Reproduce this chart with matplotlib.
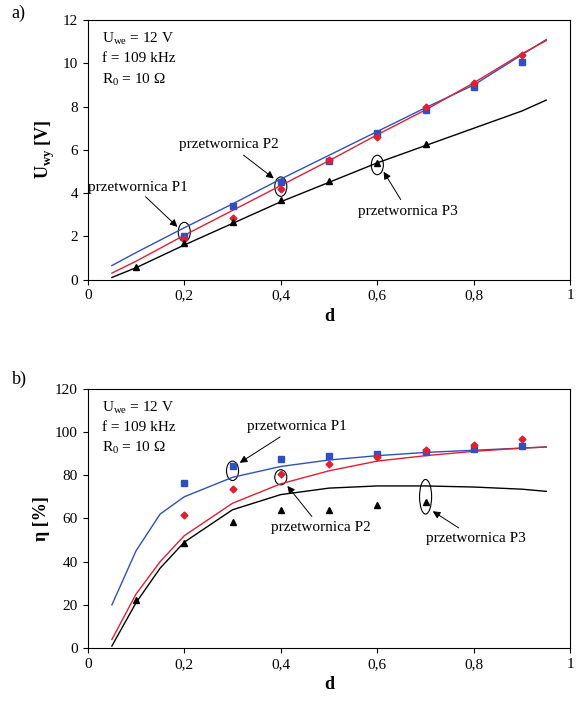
import numpy as np
import matplotlib
matplotlib.use("Agg")
import matplotlib.pyplot as plt
from matplotlib.patches import Ellipse

plt.rcParams['font.family'] = ['Liberation Serif', 'DejaVu Serif']
plt.rcParams['mathtext.fontset'] = 'custom'
plt.rcParams['mathtext.rm'] = 'Liberation Serif'
plt.rcParams['mathtext.bf'] = 'Liberation Serif:bold'

# --- top panel data (U_wy [V]) ---
d_p1 = [0.2, 0.3, 0.4, 0.5, 0.6, 0.7, 0.8, 0.9]
u_p1 = [2.0, 3.4, 4.5, 5.5, 6.8, 7.85, 8.9, 10.05]
d_p2 = [0.2, 0.3, 0.4, 0.5, 0.6, 0.7, 0.8, 0.9]
u_p2 = [1.9, 2.85, 4.2, 5.55, 6.6, 8.0, 9.1, 10.4]
d_p3 = [0.1, 0.2, 0.3, 0.4, 0.5, 0.6, 0.7]
u_p3 = [0.6, 1.7, 2.65, 3.7, 4.55, 5.4, 6.25]
d_fit = [0.05, 0.1, 0.2, 0.3, 0.4, 0.5, 0.6, 0.7, 0.8, 0.9, 0.95]
u_fit1 = [0.65, 1.25, 2.4, 3.5, 4.65, 5.75, 6.85, 7.95, 9.0, 10.4, 11.1]
u_fit2 = [0.3, 0.85, 2.05, 3.2, 4.35, 5.5, 6.7, 7.85, 9.1, 10.45, 11.05]
u_fit3 = [0.1, 0.55, 1.6, 2.6, 3.6, 4.5, 5.4, 6.2, 7.0, 7.8, 8.3]

# --- bottom panel data (eta [%]) ---
e_p1 = [76.5, 84, 87.5, 89, 90, 90.5, 92, 93.5]
e_p2 = [61.5, 73.5, 80.5, 85, 88.5, 91.5, 94, 96.5]
e_p3 = [22.5, 48.5, 58.5, 64, 64, 66, 67.5]
d_efit = [0.05, 0.1, 0.15, 0.2, 0.3, 0.4, 0.5, 0.6, 0.7, 0.8, 0.9, 0.95]
e_fit1 = [20, 45, 62, 70, 79, 84, 87, 89, 90.5, 91.5, 92.5, 93]
e_fit2 = [4, 25, 40, 52, 67, 76, 82, 86.5, 89, 91, 92.5, 93]
e_fit3 = [1, 21, 37, 49, 64, 71, 74, 75, 75, 74.5, 73.5, 72.5]

blue, red = '#3050c0', '#e02030'

fig = plt.figure(figsize=(5.85, 7.17), dpi=100)
ax1 = fig.add_axes([0.15, 0.61, 0.825, 0.362])
ax2 = fig.add_axes([0.15, 0.096, 0.825, 0.362])

def fmt(ax):
    ax.set_xlim(0, 1)
    ax.set_xticks(np.arange(0, 1.01, 0.2))
    ax.set_xticklabels(['0', '0,2', '0,4', '0,6', '0,8', '1'])
    ax.tick_params(labelsize=11, direction='out')
    ax.set_xlabel('d', fontsize=13, fontweight='bold')
    ax.text(0.03, 0.96, 'U$_{\\rm we}$ = 12 V\nf = 109 kHz\nR$_0$ = 10 Ω',
            transform=ax.transAxes, va='top', fontsize=11, linespacing=1.5)

ax1.plot(d_fit, u_fit1, color=blue, lw=1)
ax1.plot(d_fit, u_fit2, color=red, lw=1)
ax1.plot(d_fit, u_fit3, color='black', lw=1)
ax1.plot(d_p1, u_p1, 's', color=blue, ms=4)
ax1.plot(d_p2, u_p2, 'D', color=red, ms=3.5)
ax1.plot(d_p3, u_p3, '^', color='black', ms=4)
ax1.set_ylim(0, 12)
ax1.set_yticks(range(0, 13, 2))
ax1.set_ylabel('U$_{\\mathbf{wy}}$ [V]', fontsize=13, fontweight='bold')
fmt(ax1)
fig.text(0.02, 0.975, 'a)', fontsize=13)
for x, y in [(0.2, 2.2), (0.4, 4.3), (0.6, 5.3)]:
    ax1.add_patch(Ellipse((x, y), 0.025, 0.9, fill=False, lw=0.8))
ax1.annotate('przetwornica P1', xy=(0.19, 2.35), xytext=(0.0, 4.1), fontsize=11,
             arrowprops=dict(arrowstyle='-|>', lw=0.7, color='black',
                             shrinkA=0, relpos=(0.55, 0)))
ax1.annotate('przetwornica P2', xy=(0.39, 4.6), xytext=(0.19, 6.1), fontsize=11,
             arrowprops=dict(arrowstyle='-|>', lw=0.7, color='black'))
ax1.annotate('przetwornica P3', xy=(0.61, 5.1), xytext=(0.56, 3.0), fontsize=11,
             ha='left', arrowprops=dict(arrowstyle='-|>', lw=0.7, color='black'))

ax2.plot(d_efit, e_fit1, color=blue, lw=1)
ax2.plot(d_efit, e_fit2, color=red, lw=1)
ax2.plot(d_efit, e_fit3, color='black', lw=1)
ax2.plot(d_p1, e_p1, 's', color=blue, ms=4)
ax2.plot(d_p2, e_p2, 'D', color=red, ms=3.5)
ax2.plot(d_p3, e_p3, '^', color='black', ms=4)
ax2.set_ylim(0, 120)
ax2.set_yticks(range(0, 121, 20))
ax2.set_ylabel('η [%]', fontsize=13, fontweight='bold')
fmt(ax2)
fig.text(0.02, 0.465, 'b)', fontsize=13)
for x, y, h in [(0.3, 82, 9), (0.4, 79, 7), (0.7, 70, 16)]:
    ax2.add_patch(Ellipse((x, y), 0.025, h, fill=False, lw=0.8))
ax2.annotate('przetwornica P1', xy=(0.31, 85), xytext=(0.33, 101), fontsize=11,
             arrowprops=dict(arrowstyle='-|>', lw=0.7, color='black'))
ax2.annotate('przetwornica P2', xy=(0.41, 76), xytext=(0.38, 54), fontsize=11,
             arrowprops=dict(arrowstyle='-|>', lw=0.7, color='black'))
ax2.annotate('przetwornica P3', xy=(0.71, 64), xytext=(0.7, 49), fontsize=11,
             arrowprops=dict(arrowstyle='-|>', lw=0.7, color='black'))

fig.savefig('out.png', dpi=100)
